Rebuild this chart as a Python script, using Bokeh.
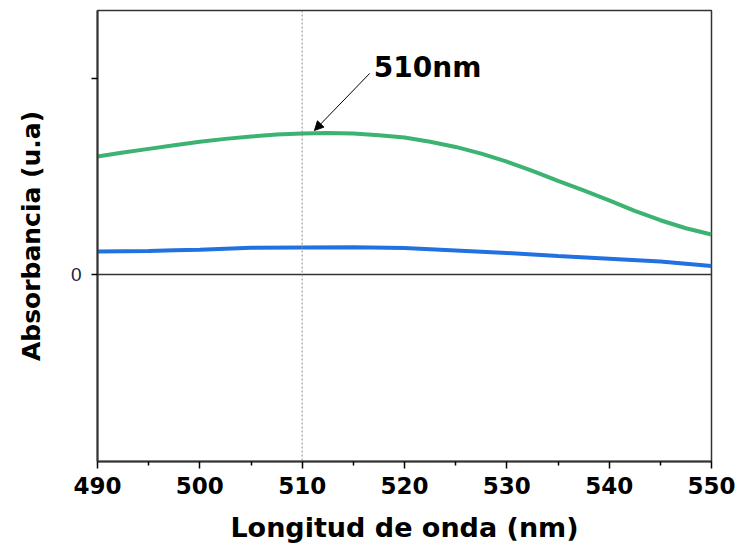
from bokeh.plotting import figure
from bokeh.models import Range1d, FixedTicker, Span, Arrow, NormalHead, Label
from bokeh.embed import file_html
from bokeh.resources import INLINE

# ---- data ----
green_x = [490, 492.5, 495, 497.5, 500, 502.5, 505, 507.5, 510, 512.5, 515, 517.5, 520,
           522.5, 525, 527.5, 530, 532.5, 535, 537.5, 540, 542.5, 545, 547.5, 550]
green_y = [0.602, 0.622, 0.641, 0.660, 0.677, 0.692, 0.704, 0.714, 0.720, 0.722, 0.719, 0.711, 0.699,
           0.677, 0.651, 0.617, 0.576, 0.529, 0.478, 0.429, 0.378, 0.325, 0.277, 0.236, 0.204]

blue_x = [490, 495, 497.5, 500, 505, 510, 515, 520, 525, 530, 535, 540, 545, 550]
blue_y = [0.117, 0.120, 0.124, 0.126, 0.136, 0.138, 0.139, 0.135, 0.123, 0.110, 0.094, 0.080, 0.066, 0.043]

x_ticks = [490, 500, 510, 520, 530, 540, 550]
x_minor = [495, 505, 515, 525, 535, 545]
y_ticks = [0, 1]
y_labels = {0: "0", 1: ""}

peak_x = 510
annot_text = "510nm"
arrow_start = (516.6, 1.026)
arrow_end = (511.2, 0.735)
annot_pos = (517.0, 1.055)

x_title = "Longitud de onda (nm)"
y_title = "Absorbancia (u.a)"

FONT = "DejaVu Sans"

p = figure(width=735, height=547, output_backend="svg", toolbar_location=None,
           x_range=Range1d(490, 550), y_range=Range1d(-0.954, 1.347),
           min_border_left=97, min_border_right=24, min_border_top=10, min_border_bottom=86)
p.grid.visible = False
p.background_fill_color = "white"
p.border_fill_color = "white"
p.outline_line_color = "#333333"
p.outline_line_width = 1.5

# x axis
xa = p.xaxis[0]
xa.ticker = FixedTicker(ticks=x_ticks, minor_ticks=x_minor)
xa.axis_line_color = "#333333"
xa.axis_line_width = 2
xa.major_tick_in = 0
xa.major_tick_out = 7
xa.minor_tick_in = 0
xa.minor_tick_out = 4
xa.major_tick_line_width = 1.5
xa.minor_tick_line_width = 1.5
xa.major_label_text_font = FONT
xa.major_label_text_font_style = "bold"
xa.major_label_text_font_size = "23px"
xa.major_label_text_color = "black"
xa.major_label_standoff = 8
xa.axis_label = x_title
xa.axis_label_text_font = FONT
xa.axis_label_text_font_style = "bold"
xa.axis_label_text_font_size = "27px"
xa.axis_label_text_color = "black"
xa.axis_label_standoff = 15

# y axis
ya = p.yaxis[0]
ya.ticker = FixedTicker(ticks=y_ticks, minor_ticks=[])
ya.major_label_overrides = y_labels
ya.axis_line_color = "#333333"
ya.axis_line_width = 2
ya.major_tick_in = 0
ya.major_tick_out = 6
ya.major_tick_line_width = 1.5
ya.minor_tick_out = 0
ya.major_label_text_font = "Liberation Sans"
ya.major_label_text_font_size = "19px"
ya.major_label_text_color = "#222244"
ya.major_label_standoff = 10
ya.axis_label = y_title
ya.axis_label_text_font = FONT
ya.axis_label_text_font_style = "bold"
ya.axis_label_text_font_size = "25px"
ya.axis_label_text_color = "black"
ya.axis_label_standoff = 22

# reference lines
p.add_layout(Span(location=0, dimension="width", line_color="#333333", line_width=1.5))
p.add_layout(Span(location=peak_x, dimension="height", line_color="#888888",
                  line_width=1, line_dash="2 2"))

# curves
p.line(green_x, green_y, line_color="#3cb371", line_width=4)
p.line(blue_x, blue_y, line_color="#2172e0", line_width=4)

# annotation
p.add_layout(Arrow(x_start=arrow_start[0], y_start=arrow_start[1],
                   x_end=arrow_end[0], y_end=arrow_end[1],
                   line_color="black", line_width=1,
                   end=NormalHead(size=9, fill_color="black", line_color="black")))
p.add_layout(Label(x=annot_pos[0], y=annot_pos[1], text=annot_text,
                   text_font=FONT, text_font_style="bold", text_font_size="28px",
                   text_color="black", text_baseline="alphabetic"))

open("out.html", "w").write(file_html(p, INLINE))
